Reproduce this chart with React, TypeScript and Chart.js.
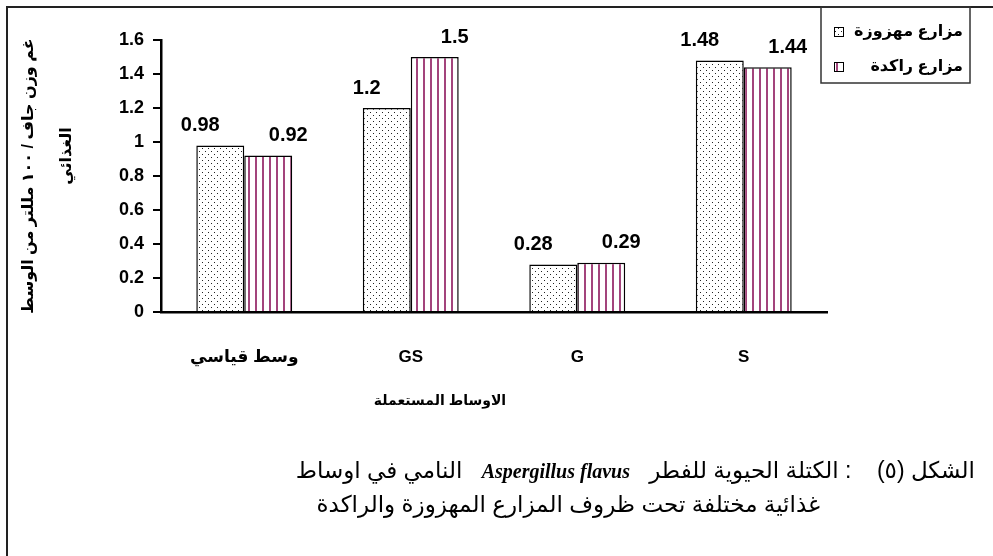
import React, { useEffect, useRef } from 'react';
import { Chart, registerables } from 'chart.js';
Chart.register(...registerables);

const categories = ['وسط قياسي', 'GS', 'G', 'S'];
const shakenValues = [0.98, 1.2, 0.28, 1.48];
const staticValues = [0.92, 1.5, 0.29, 1.44];
const seriesNames = ['مزارع مهزوزة', 'مزارع راكدة'];
const yTickLabels = ['0', '0.2', '0.4', '0.6', '0.8', '1', '1.2', '1.4', '1.6'];
const valueLabels = [['0.98', '1.2', '0.28', '1.48'], ['0.92', '1.5', '0.29', '1.44']];
const yTitleLines = ['غم وزن جاف / ١٠٠ مللتر من الوسط', 'الغذائي'];
const xTitle = 'الاوساط المستعملة';

const FONT = '"Liberation Sans", Arial, "DejaVu Sans", sans-serif';

function makeDots(): CanvasPattern {
  const c = document.createElement('canvas');
  c.width = 6; c.height = 6;
  const g = c.getContext('2d')!;
  g.fillStyle = '#fff'; g.fillRect(0, 0, 6, 6);
  g.fillStyle = '#222';
  g.fillRect(1, 1, 1, 1);
  g.fillRect(4, 4, 1, 1);
  return g.createPattern(c, 'repeat')!;
}
function makeStripes(): CanvasPattern {
  const c = document.createElement('canvas');
  c.width = 7; c.height = 7;
  const g = c.getContext('2d')!;
  g.fillStyle = '#fff'; g.fillRect(0, 0, 7, 7);
  g.fillStyle = '#a3447c';
  g.fillRect(3, 0, 2, 7);
  return g.createPattern(c, 'repeat')!;
}

export default function App() {
  const ref = useRef<HTMLCanvasElement>(null);
  useEffect(() => {
    const canvas = ref.current!;
    const dots = makeDots();
    const stripes = makeStripes();
    const fills = [dots, stripes];

    const labelPlugin = {
      id: 'valueLabels',
      afterDatasetsDraw(chart: any) {
        const ctx = chart.ctx;
        ctx.save();
        ctx.font = `bold 20px ${FONT}`;
        ctx.fillStyle = '#000';
        ctx.textAlign = 'center';
        ctx.textBaseline = 'middle';
        chart.data.datasets.forEach((_: any, i: number) => {
          const meta = chart.getDatasetMeta(i);
          meta.data.forEach((bar: any, j: number) => {
            const dx = i === 0 ? -20 : 20;
            ctx.fillText(valueLabels[i][j], bar.x + dx, bar.y - 20);
          });
        });
        ctx.restore();
      },
    };

    const decorPlugin = {
      id: 'decor',
      afterDraw(chart: any) {
        const ctx = chart.ctx;
        ctx.save();
        ctx.fillStyle = '#000';
        ctx.font = `bold 16px ${FONT}`;
        ctx.textAlign = 'center';
        ctx.textBaseline = 'middle';
        ctx.direction = 'rtl';
        ctx.save();
        ctx.translate(29, 176);
        ctx.rotate(-Math.PI / 2);
        ctx.fillText(yTitleLines[0], 0, 0);
        ctx.restore();
        ctx.save();
        ctx.translate(67, 156);
        ctx.rotate(-Math.PI / 2);
        ctx.fillText(yTitleLines[1], 0, 0);
        ctx.restore();
        ctx.font = `bold 14px ${FONT}`;
        ctx.fillText(xTitle, 440, 401);
        ctx.strokeStyle = '#333';
        ctx.lineWidth = 1.5;
        ctx.strokeRect(821, 7, 149, 76);
        ctx.font = `bold 16px ${FONT}`;
        ctx.textAlign = 'right';
        const ys = [32, 67];
        seriesNames.forEach((name, i) => {
          ctx.fillStyle = '#000';
          ctx.fillText(name, 963, ys[i]);
          ctx.fillStyle = fills[i];
          ctx.fillRect(834, ys[i] - 5, 10, 10);
          ctx.lineWidth = 1;
          ctx.strokeStyle = '#000';
          ctx.strokeRect(834.5, ys[i] - 4.5, 9, 9);
        });
        ctx.restore();
      },
    };

    const chart = new Chart(canvas, {
      type: 'bar',
      data: {
        labels: categories,
        datasets: [
          { label: seriesNames[0], data: shakenValues, backgroundColor: dots, borderColor: '#000', borderWidth: 1.5 },
          { label: seriesNames[1], data: staticValues, backgroundColor: stripes, borderColor: '#000', borderWidth: 1.5 },
        ],
      },
      options: {
        responsive: false,
        animation: false,
        devicePixelRatio: 1,
        layout: { padding: { left: 0, top: 40, right: 166, bottom: 0 } },
        plugins: { legend: { display: false }, tooltip: { enabled: false } },
        datasets: { bar: { categoryPercentage: 0.576, barPercentage: 1 } },
        scales: {
          x: {
            grid: { display: false },
            border: { display: true, color: '#000', width: 2.5 },
            ticks: { color: '#000', font: { family: FONT, size: 17, weight: 'bold' }, padding: 27 },
            afterFit: (s: any) => { s.height = 244; },
          },
          y: {
            min: 0,
            max: 1.6,
            ticks: {
              stepSize: 0.2,
              color: '#000',
              padding: 9,
              font: { family: FONT, size: 18, weight: 'bold' },
              callback: (_v: any, i: number) => yTickLabels[i],
            },
            grid: { drawOnChartArea: false, drawTicks: true, tickLength: 8, color: '#000', lineWidth: 2 },
            border: { display: true, color: '#000', width: 2.5 },
            afterFit: (s: any) => { s.width = 161; },
          },
        },
      },
      plugins: [labelPlugin, decorPlugin],
    } as any);
    return () => chart.destroy();
  }, []);

  return (
    <div style={{ position: 'absolute', left: 0, top: 0, width: 993, height: 556, overflow: 'hidden', background: '#fff' }}>
      <div style={{ position: 'absolute', left: 6, top: 6, width: 1100, height: 700, borderLeft: '2px solid #222', borderTop: '2px solid #222' }} />
      <canvas ref={ref} width={993} height={556} style={{ position: 'absolute', left: 0, top: 0 }} />
      <div dir="rtl" style={{ position: 'absolute', right: 18, top: 455, whiteSpace: 'pre', fontFamily: FONT, fontSize: 23, lineHeight: '30px', color: '#000' }}>
        {'الشكل (٥)    : الكتلة الحيوية للفطر   '}
        <b style={{ fontFamily: '"Liberation Serif", serif', fontStyle: 'italic', fontSize: 20 }}>Aspergillus flavus</b>
        {'   النامي في اوساط'}
      </div>
      <div dir="rtl" style={{ position: 'absolute', right: 173, top: 489, whiteSpace: 'pre', fontFamily: FONT, fontSize: 23, lineHeight: '30px', color: '#000' }}>
        {'غذائية مختلفة تحت ظروف المزارع المهزوزة والراكدة'}
      </div>
    </div>
  );
}
